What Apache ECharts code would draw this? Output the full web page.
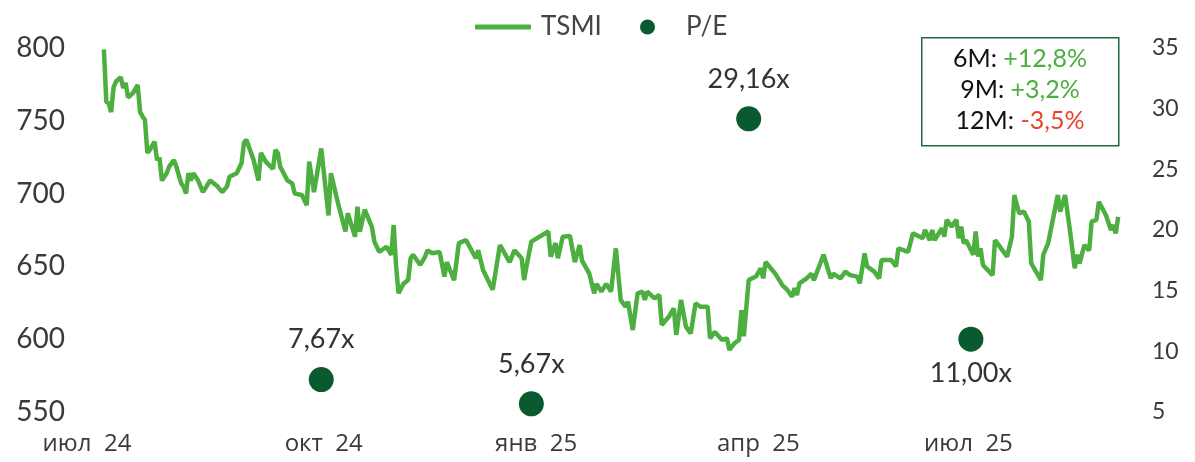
<!DOCTYPE html>
<html>
<head>
	<meta charset="utf-8" />
	<title>TSMI</title>
	<script src="https://cdn.jsdelivr.net/npm/echarts@6/dist/echarts.min.js"></script>
	<style>
		body { margin: 0; background: #fff; }
	</style>
</head>
<body>
	<div id="main" style="width: 1195px;height: 462px;"></div>
	<script type="text/javascript">

		// x axis is in days counted from startDate
		var startDate = new Date(2024, 6, 1).getTime();
		var DAY = 86400000;

		// TSMI index, day offset from startDate and value
		var dayOffset = [7,8,9,10,11,12,14,15,16,17,19,21,22,23,24,25,26,28,29,30,31,33,34,36,37,39,40,41,42,43,44,46,48,51,54,56,58,59,62,64,65,66,69,71,72,
			74,77,78,79,80,83,85,86,89,91,92,94,97,100,101,104,107,108,111,112,113,115,118,119,121,124,126,127,128,129,131,133,134,135,
			138,140,141,143,146,148,149,152,154,157,161,162,164,168,171,175,177,180,181,182,184,191,192,194,195,197,200,202,
			204,205,208,210,211,213,215,217,219,221,223,224,226,228,230,231,232,235,237,238,241,243,244,246,248,250,252,254,257,258,260,263,265,266,268,270,271,272,274,
			277,279,280,281,285,288,290,292,293,294,295,298,300,301,305,308,309,312,314,316,319,320,322,323,326,328,329,333,335,
			336,340,342,346,347,349,350,351,354,355,356,358,360,361,362,363,364,367,368,369,370,371,375,376,381,383,384,386,388,390,391,395,396,398,402,403,405,407,409,410,411,413,415,416,418,419,422,424,425,426,427];
		var tsmi = [799,763,762,756,773,777,780,772.5,776,766,769,774.6,756,753,750.5,728,730,735.6,723,725,709,714,718.5,723,718.5,707,704.7,700,714,709,714,709,701,709,705,701,705,711.6,714,721,734.8,737,723,709,728,
			722,717,730,728,718.5,709,707,700,699,692,722,701,731,685,714,693,674,686.5,670.4,691,674,689,677,667,660,663.5,658,678.4,650,631.5,638,640.6,655.6,658,
			651,656.7,661,659,660,643,653,640.6,666,668,655.6,661,647.5,634,664.7,653,661,655.6,640.6,650,667,674,656.7,666,655.6,670.4,670.9,653,
			664.7,654,645,631.5,638,632.7,638,632.7,662.4,627,622.3,625.8,606.3,631.5,632.7,627,632.7,628,630.4,609.8,615.6,621.2,603,627,608.6,604,624.7,622.3,622.3,600.6,605,599.5,600.6,592.6,597,599.5,620,602,640.6,
			643,648.7,641.8,653,645,637,633.8,629.2,635,630.4,638.4,641.8,645,640.6,658,641.8,645,641.8,646.4,644,643,638.4,659,650,646.4,641.8,654.4,654.4,650,
			662.4,660,672.7,669.3,675,668,675,668,676.2,670.4,682,677.3,682,669.3,677.3,665.9,668,658,674,656.7,662.4,651,644,668,656.7,670.4,699,686.5,687.6,680.7,652,640.6,658,665.9,699,687.6,699,675,648.7,658,652,664.7,661,680.7,682,694.4,685,675,678.4,672.7,684];

		// P/E points
		var peDay = [97, 184, 274, 366];
		var peValue = [7.67, 5.67, 29.16, 11.00];

		// x axis labels
		var xLabelDay = [0, 98, 186, 278, 365];
		var monthNames = ['янв','фев','мар','апр','май','июн','июл','авг','сен','окт','ноя','дек'];

		// box in the corner
		var statPeriod = ['6M', '9M', '12M'];
		var statChange = [12.8, 3.2, -3.5];

		var green = '#4caf3f';
		var darkGreen = '#0a5a30';
		var red = '#e8452c';
		var font = 'Lato';

		var lineData = [];
		for (var i = 0; i < dayOffset.length; i++) {
			lineData.push([dayOffset[i], tsmi[i]]);
		}

		var peData = [];
		for (var j = 0; j < peDay.length; j++) {
			var below = peValue[j] > 10 && peValue[j] < 20;
			peData.push({
				value: [peDay[j], peValue[j]],
				label: {
					position: below ? 'bottom' : 'top',
					distance: below ? 8 : 14
				}
			});
		}

		function fmtNum(v, digits) {
			return v.toFixed(digits).replace('.', ',');
		}

		var graphics = [{
			type: 'rect',
			left: 921,
			top: 37,
			shape: { width: 197, height: 108 },
			style: { fill: '#fff', stroke: '#1f6b3c', lineWidth: 1.5 },
			z: 10
		}];
		for (var k = 0; k < statPeriod.length; k++) {
			var ch = statChange[k];
			var txt = (ch >= 0 ? '+' : '') + fmtNum(ch, 1) + '%';
			graphics.push({
				type: 'text',
				x: 1020,
				y: 59 + k * 31,
				z: 11,
				style: {
					text: '{k|' + statPeriod[k] + ': }{' + (ch >= 0 ? 'g' : 'r') + '|' + txt + '}',
					align: 'center',
					verticalAlign: 'middle',
					rich: {
						k: { fill: '#111', fontSize: 25, fontFamily: font },
						g: { fill: green, fontSize: 25, fontFamily: font },
						r: { fill: red, fontSize: 25, fontFamily: font }
					}
				}
			});
		}

		var myChart = echarts.init(document.getElementById('main'));

		var option = {
			animation: false,
			backgroundColor: '#fff',
			textStyle: { fontFamily: font },
			legend: [{
				data: ['TSMI'],
				left: 470,
				top: 9,
				icon: 'roundRect',
				itemWidth: 56,
				itemHeight: 5,
				textStyle: { fontSize: 26, color: '#444', padding: [0, 0, 0, 5] }
			}, {
				data: ['P/E'],
				left: 635,
				top: 9,
				icon: 'circle',
				itemWidth: 15,
				itemHeight: 15,
				textStyle: { fontSize: 26, color: '#444', padding: [0, 0, 0, 26] }
			}],
			grid: {
				left: 87,
				right: 72,
				top: 48,
				bottom: 50,
				outerBoundsMode: 'none'
			},
			xAxis: {
				type: 'value',
				min: 0,
				max: 429,
				axisLine: { show: false },
				axisTick: { show: false },
				splitLine: { show: false },
				axisLabel: {
					customValues: xLabelDay,
					fontSize: 24,
					fontFamily: 'Open Sans',
					color: '#3a3a3a',
					margin: 20,
					formatter: function (value) {
						var d = new Date(startDate + value * DAY);
						return monthNames[d.getMonth()] + '  ' + String(d.getFullYear()).slice(2);
					}
				}
			},
			yAxis: [{
				type: 'value',
				min: 550,
				max: 800,
				interval: 50,
				axisLine: { show: false },
				axisTick: { show: false },
				splitLine: { show: false },
				axisLabel: { fontSize: 28, color: '#3a3a3a', margin: 22 }
			}, {
				type: 'value',
				min: 5,
				max: 35,
				interval: 5,
				position: 'right',
				axisLine: { show: false },
				axisTick: { show: false },
				splitLine: { show: false },
				axisLabel: { fontSize: 23, color: '#3a3a3a', margin: 29 }
			}],
			series: [{
				name: 'TSMI',
				type: 'line',
				yAxisIndex: 0,
				data: lineData,
				showSymbol: false,
				itemStyle: { color: green },
				lineStyle: { color: green, width: 4.5 }
			}, {
				name: 'P/E',
				type: 'scatter',
				yAxisIndex: 1,
				data: peData,
				symbolSize: 25,
				itemStyle: { color: darkGreen, opacity: 1 },
				label: {
					show: true,
					fontSize: 27,
					color: '#333',
					formatter: function (p) { return fmtNum(p.value[1], 2) + 'x'; }
				}
			}],
			graphic: graphics
		};

		myChart.setOption(option);

	</script>
</body>
</html>
